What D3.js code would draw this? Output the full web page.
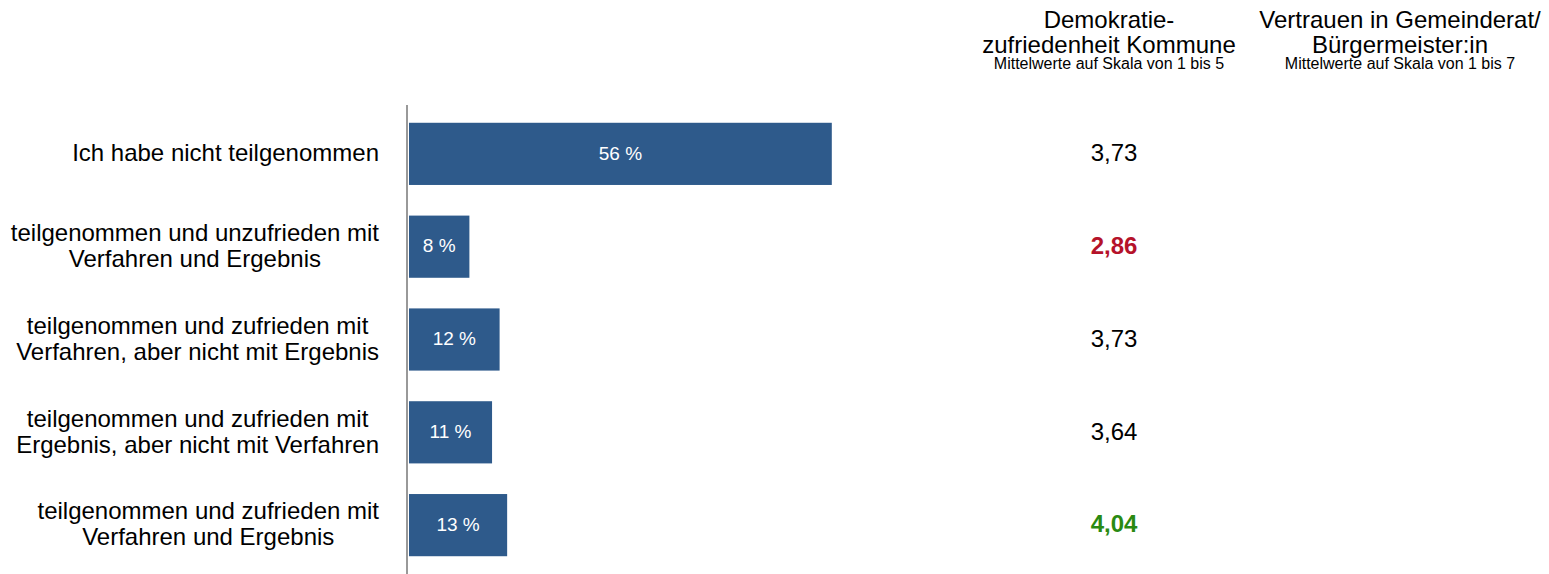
<!DOCTYPE html>
<meta charset="utf-8">
<style>
body { margin: 0; background: #fff; }
text { font-family: "Liberation Sans", Arial, sans-serif; }
</style>
<svg width="1549" height="574"></svg>
<script src="https://cdn.jsdelivr.net/npm/d3@7"></script>
<script>

// categories (two-line labels split by |)
var categories = [
  "Ich habe nicht teilgenommen",
  "teilgenommen und unzufrieden mit|Verfahren und Ergebnis",
  "teilgenommen und zufrieden mit|Verfahren, aber nicht mit Ergebnis",
  "teilgenommen und zufrieden mit|Ergebnis, aber nicht mit Verfahren",
  "teilgenommen und zufrieden mit|Verfahren und Ergebnis"
];
var shares = [56, 8, 12, 11, 13];
var demokratie = ["3,73", "2,86", "3,73", "3,64", "4,04"];
var highlight = ["", "low", "", "", "high"];

var svg = d3.select("svg");

var x = d3.scaleLinear().domain([0, 100]).range([409, 1164]);
var y = d3.scaleBand()
    .domain(categories)
    .range([107, 572])
    .paddingInner(0.33)
    .paddingOuter(0.17);

// bars
svg.append("g")
  .selectAll("rect")
  .data(categories)
  .enter().append("rect")
    .attr("x", x(0))
    .attr("y", function(d) { return y(d); })
    .attr("width", function(d, i) { return x(shares[i]) - x(0); })
    .attr("height", y.bandwidth())
    .attr("fill", "#2e5a8b");

// value labels inside bars
svg.append("g")
  .selectAll("text")
  .data(categories)
  .enter().append("text")
    .attr("x", function(d, i) { return (x(0) + x(shares[i])) / 2; })
    .attr("y", function(d) { return y(d) + y.bandwidth() / 2; })
    .attr("dy", "0.3em")
    .attr("text-anchor", "middle")
    .attr("fill", "#fff")
    .attr("font-size", 19)
    .text(function(d, i) { return shares[i] + " %"; });

// vertical axis line
svg.append("line")
    .attr("x1", 407).attr("x2", 407)
    .attr("y1", 105).attr("y2", 574)
    .attr("stroke", "#999")
    .attr("stroke-width", 2);

// category labels: block right-aligned, lines centred inside block
var lab = svg.append("g")
  .selectAll("text")
  .data(categories)
  .enter().append("text")
    .attr("text-anchor", "middle")
    .attr("font-size", 24)
    .attr("fill", "#000");

lab.each(function(d) {
  var lines = d.split("|");
  var cy = y(d) + y.bandwidth() / 2;
  var t = d3.select(this);
  var spans = lines.map(function(l, k) {
    return t.append("tspan")
      .attr("y", cy + (k - (lines.length - 1) / 2) * 26)
      .attr("dy", "0.3em")
      .text(l);
  });
  var w = d3.max(spans, function(s) { return s.node().getComputedTextLength(); });
  spans.forEach(function(s) { s.attr("x", 379 - w / 2); });
});

// Demokratie column values
var colors = { low: "#b5122a", high: "#2a8a12" };
svg.append("g")
  .selectAll("text")
  .data(categories)
  .enter().append("text")
    .attr("x", 1114)
    .attr("y", function(d) { return y(d) + y.bandwidth() / 2; })
    .attr("dy", "0.3em")
    .attr("text-anchor", "middle")
    .attr("font-size", 24)
    .attr("font-weight", function(d, i) { return highlight[i] ? "bold" : "normal"; })
    .attr("fill", function(d, i) { return highlight[i] ? colors[highlight[i]] : "#000"; })
    .text(function(d, i) { return demokratie[i]; });

// column headers
var headers = [
  { cx: 1109, lines: ["Demokratie-", "zufriedenheit Kommune"], sub: "Mittelwerte auf Skala von 1 bis 5" },
  { cx: 1400, lines: ["Vertrauen in Gemeinderat/", "Bürgermeister:in"], sub: "Mittelwerte auf Skala von 1 bis 7" }
];
headers.forEach(function(h) {
  h.lines.forEach(function(l, k) {
    svg.append("text")
      .attr("x", h.cx)
      .attr("y", 28 + k * 25)
      .attr("text-anchor", "middle")
      .attr("font-size", 24)
      .text(l);
  });
  svg.append("text")
    .attr("x", h.cx)
    .attr("y", 69)
    .attr("text-anchor", "middle")
    .attr("font-size", 16)
    .text(h.sub);
});

</script>
